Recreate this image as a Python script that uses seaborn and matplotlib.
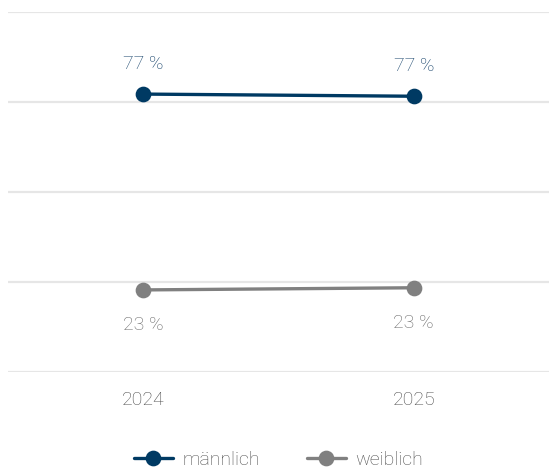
import numpy as np
import pandas as pd
import seaborn as sns
import matplotlib.pyplot as plt

years = ["2024", "2025"]
maennlich = [77.2, 76.6]
weiblich = [22.8, 23.4]
series_names = ["männlich", "weiblich"]

df = pd.DataFrame({
    "Jahr": years * 2,
    "Anteil": maennlich + weiblich,
    "Geschlecht": [series_names[0]] * 2 + [series_names[1]] * 2,
})

sns.set_style("white")
plt.rcParams['font.family'] = ['Roboto', 'DejaVu Sans']
plt.rcParams['font.weight'] = 'light'

colors = {"männlich": "#003a63", "weiblich": "#808080"}
label_colors = {"männlich": "#0f3d66", "weiblich": "#666666"}
text_grey = "#4d4d4d"

fig = plt.figure(figsize=(5.49, 4.70), dpi=100)
ax = fig.add_axes([8 / 549, 98 / 470, 541 / 549, 360 / 470])

sns.pointplot(data=df, x="Jahr", y="Anteil", hue="Geschlecht", order=years,
              palette=colors, markers="o", linestyles="-", dodge=False,
              errorbar=None, markersize=9.5, linewidth=2.4, ax=ax)

ax.set_ylim(0, 100)
ax.set_xlim(-0.5, 1.5)
ax.set_yticks([0, 25, 50, 75, 100])
ax.set_yticklabels([])
ax.yaxis.grid(True, color="#e6e6e6", linewidth=1.6)
ax.set_axisbelow(True)
for s in ax.spines.values():
    s.set_visible(False)
ax.tick_params(axis="both", length=0)
ax.tick_params(axis="x", pad=14, labelsize=14, labelcolor=text_grey)
ax.set_xlabel("")
ax.set_ylabel("")

# value labels
for i, v in enumerate(maennlich):
    ax.annotate(f"{v:.0f} %", (i, v), xytext=(0, 15), textcoords="offset points",
                ha="center", va="bottom", fontsize=14, color=label_colors["männlich"])
for i, v in enumerate(weiblich):
    ax.annotate(f"{v:.0f} %", (i, v), xytext=(0, -19), textcoords="offset points",
                ha="center", va="top", fontsize=14, color=label_colors["weiblich"])

handles, labels = ax.get_legend_handles_labels()
ax.legend(handles, labels, loc="center", bbox_to_anchor=(0.5, -0.245),
          ncol=2, frameon=False, fontsize=14, labelcolor=text_grey,
          handlelength=2.0, columnspacing=2.4, handletextpad=0.5)

fig.savefig("out.png", dpi=100)
